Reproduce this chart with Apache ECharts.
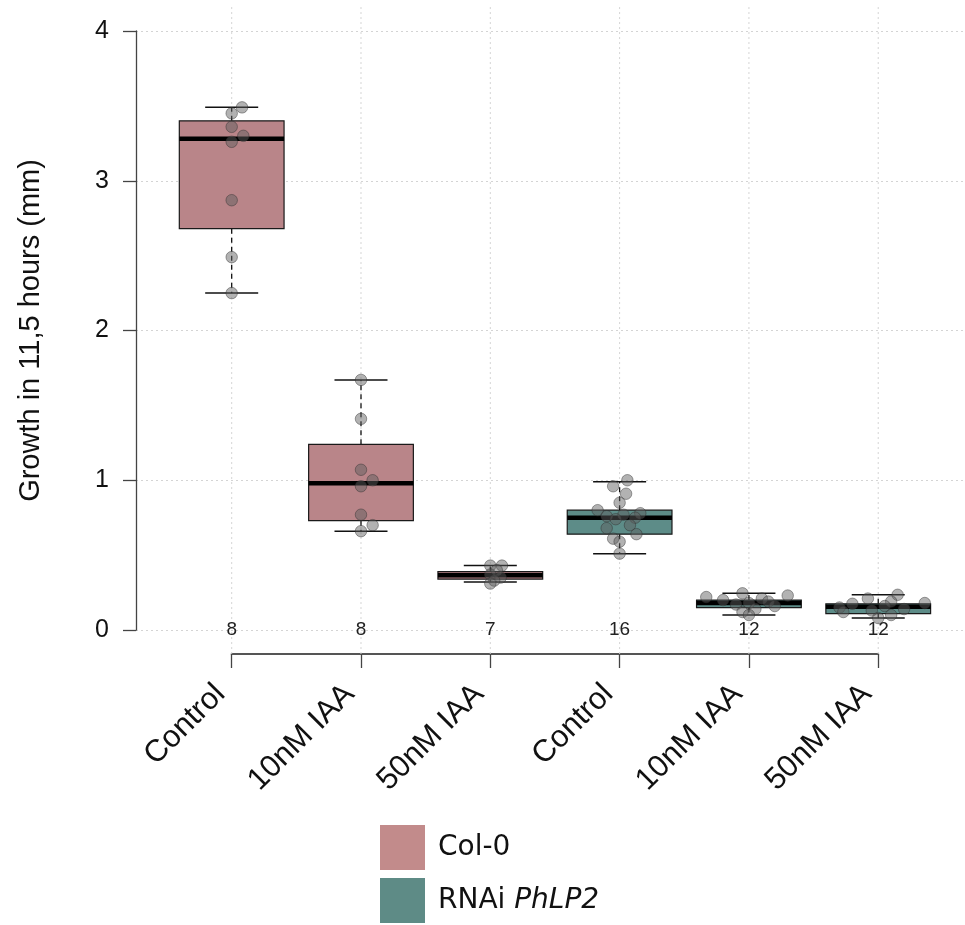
<!DOCTYPE html>
<html>
<head>
<meta charset="utf-8">
<script src="https://cdn.jsdelivr.net/npm/echarts@6/dist/echarts.min.js"></script>
<style>
  html, body { margin: 0; padding: 0; background: #ffffff; }
  #chart { width: 965px; height: 925px; }
</style>
</head>
<body>
<div id="chart"></div>
<script>
// Treatments along the x axis and the genotype each box belongs to
const categories = ['Control', '10nM IAA', '50nM IAA', 'Control', '10nM IAA', '50nM IAA'];
const genotypes = ['Col-0', 'Col-0', 'Col-0', 'RNAi PhLP2', 'RNAi PhLP2', 'RNAi PhLP2'];
const sampleSizes = [8, 8, 7, 16, 12, 12];

// Box statistics (mm)
const whiskerLow  = [2.25, 0.66, 0.32, 0.51, 0.10, 0.08];
const lowerHinge  = [2.68, 0.73, 0.34, 0.64, 0.15, 0.11];
const medians     = [3.28, 0.98, 0.365, 0.75, 0.18, 0.155];
const upperHinge  = [3.40, 1.24, 0.39, 0.80, 0.20, 0.175];
const whiskerHigh = [3.49, 1.67, 0.43, 0.99, 0.245, 0.235];

// Individual seedlings (mm) with their horizontal jitter in category units
const colControl = [3.49, 3.45, 3.36, 3.30, 3.26, 2.87, 2.49, 2.25];
const colControlJitter = [0.08, 0, 0, 0.09, 0, 0, 0, 0];
const col10 = [1.67, 1.41, 1.07, 1.00, 0.96, 0.77, 0.70, 0.66];
const col10Jitter = [0, 0, 0, 0.09, 0, 0, 0.09, 0];
const col50 = [0.43, 0.43, 0.40, 0.37, 0.35, 0.33, 0.31];
const col50Jitter = [0, 0.09, 0.05, 0, 0.08, 0.03, 0];
const rnaiControl = [1.00, 0.96, 0.91, 0.85, 0.80, 0.78, 0.77, 0.76, 0.75, 0.74, 0.70, 0.68, 0.64, 0.61, 0.59, 0.51];
const rnaiControlJitter = [0.06, -0.05, 0.05, 0.0, -0.17, 0.16, 0.03, -0.1, 0.12, -0.03, 0.08, -0.1, 0.13, -0.05, 0.0, 0.0];
const rnai10 = [0.245, 0.23, 0.22, 0.21, 0.20, 0.19, 0.18, 0.17, 0.16, 0.14, 0.12, 0.10];
const rnai10Jitter = [-0.05, 0.3, -0.33, 0.1, -0.2, 0.15, 0, -0.1, 0.2, 0.05, -0.05, 0];
const rnai50 = [0.235, 0.21, 0.19, 0.18, 0.175, 0.16, 0.15, 0.14, 0.13, 0.12, 0.10, 0.08];
const rnai50Jitter = [0.15, -0.08, 0.1, 0.36, -0.2, 0.05, -0.3, 0.2, -0.05, -0.27, 0.1, 0];

const groupValues = [colControl, col10, col50, rnaiControl, rnai10, rnai50];
const groupJitter = [colControlJitter, col10Jitter, col50Jitter, rnaiControlJitter, rnai10Jitter, rnai50Jitter];

const yTicks = [0, 1, 2, 3, 4];

const genotypeColors = { 'Col-0': '#b98589', 'RNAi PhLP2': '#5d8c88' };
const legendColors = { 'Col-0': '#c28b8b', 'RNAi PhLP2': '#5e8b86' };

const BOX_HALF = 0.405;
const CAP_HALF = 0.205;

function boxData(name) {
  const rows = [];
  for (let i = 0; i < categories.length; i++) {
    if (genotypes[i] !== name) continue;
    rows.push([i + 1, whiskerLow[i], lowerHinge[i], medians[i], upperHinge[i], whiskerHigh[i]]);
  }
  return rows;
}

function renderBox(params, api) {
  const x = api.value(0);
  const low = api.value(1), q1 = api.value(2), med = api.value(3), q3 = api.value(4), high = api.value(5);
  const pL = api.coord([x - BOX_HALF, q3]);
  const pR = api.coord([x + BOX_HALF, q1]);
  const c = (v) => api.coord([x, v]);
  const capL = (v) => api.coord([x - CAP_HALF, v]);
  const capR = (v) => api.coord([x + CAP_HALF, v]);
  const fill = api.visual('color');
  const dash = { stroke: '#111', lineWidth: 1.3, lineDash: [5, 4] };
  const solid = { stroke: '#111', lineWidth: 1.5 };
  return {
    type: 'group',
    children: [
      { type: 'line', shape: { x1: c(q3)[0], y1: c(q3)[1], x2: c(high)[0], y2: c(high)[1] }, style: dash },
      { type: 'line', shape: { x1: c(q1)[0], y1: c(q1)[1], x2: c(low)[0], y2: c(low)[1] }, style: dash },
      { type: 'line', shape: { x1: capL(high)[0], y1: capL(high)[1], x2: capR(high)[0], y2: capR(high)[1] }, style: solid },
      { type: 'line', shape: { x1: capL(low)[0], y1: capL(low)[1], x2: capR(low)[0], y2: capR(low)[1] }, style: solid },
      { type: 'rect', shape: { x: pL[0], y: pL[1], width: pR[0] - pL[0], height: pR[1] - pL[1] },
        style: { fill: fill, stroke: '#1a1a1a', lineWidth: 1.2 } },
      { type: 'line', shape: { x1: pL[0], y1: c(med)[1], x2: pR[0], y2: c(med)[1] },
        style: { stroke: '#000', lineWidth: 4.5 } }
    ]
  };
}

const pointData = [];
groupValues.forEach((vals, g) => {
  vals.forEach((v, k) => pointData.push([g + 1 + groupJitter[g][k], v]));
});

const countData = sampleSizes.map((n, i) => [i + 1, 0, n]);
const gridData = categories.map((_, i) => [i + 1]);

const fontAxis = '"Liberation Sans", Arial, sans-serif';
const fontLegend = '"DejaVu Sans", sans-serif';

const chart = echarts.init(document.getElementById('chart'), null, { renderer: 'canvas' });
chart.setOption({
  animation: false,
  backgroundColor: '#ffffff',
  grid: [
    { left: 136, top: 31, height: 599, right: 0 },
    { left: 231.7, top: 31, height: 599, width: 646.5 }
  ],
  xAxis: [
    { gridIndex: 0, type: 'value', min: 0.26, max: 6.671, show: false },
    {
      gridIndex: 1, type: 'value', min: 1, max: 6, interval: 1, offset: 24,
      axisLine: { show: true, onZero: false, lineStyle: { color: '#555', width: 2 } },
      axisTick: { show: true, length: 14, lineStyle: { color: '#444', width: 1.3 } },
      axisLabel: {
        rotate: 45, margin: 24, fontSize: 31, color: '#111', fontFamily: fontAxis,
        padding: [0, 16, 0, 0],
        formatter: (v) => categories[Math.round(v) - 1] || ''
      },
      splitLine: { show: false }
    }
  ],
  yAxis: [
    {
      gridIndex: 0, type: 'value', min: 0, max: 4, interval: 1,
      name: 'Growth in 11,5 hours (mm)', nameLocation: 'middle', nameGap: 91,
      nameTextStyle: { fontSize: 29, color: '#111', fontFamily: fontAxis },
      axisLine: { show: true, lineStyle: { color: '#444', width: 1.3 } },
      axisTick: { show: true, length: 13, lineStyle: { color: '#444', width: 1.3 } },
      axisLabel: { margin: 27, fontSize: 25, color: '#111', fontFamily: fontAxis,
        formatter: (v) => (yTicks.indexOf(v) >= 0 ? String(v) : '') },
      splitLine: { show: true, lineStyle: { color: '#d4d4d4', type: [2, 3], width: 1 } }
    },
    { gridIndex: 1, type: 'value', min: 0, max: 4, show: false }
  ],
  legend: {
    orient: 'vertical', left: 380, top: 825, padding: 0, itemWidth: 45, itemHeight: 45, itemGap: 8,
    icon: 'rect', selectedMode: false,
    data: [
      { name: 'Col-0', itemStyle: { color: legendColors['Col-0'] } },
      { name: 'RNAi PhLP2', itemStyle: { color: legendColors['RNAi PhLP2'] } }
    ],
    formatter: (name) => name === 'RNAi PhLP2' ? 'RNAi {i|PhLP2}' : name,
    textStyle: {
      fontSize: 28, color: '#111', fontFamily: fontLegend, padding: [0, 0, 0, 8],
      rich: { i: { fontSize: 28, fontStyle: 'italic', color: '#111', fontFamily: fontLegend } }
    }
  },
  series: [
    {
      type: 'custom', name: 'grid-verticals', xAxisIndex: 0, yAxisIndex: 0, silent: true, z: 1,
      data: gridData, clip: false,
      renderItem: (params, api) => {
        const top = api.coord([api.value(0), 4.16]);
        const bot = api.coord([api.value(0), -0.16]);
        return { type: 'line', shape: { x1: top[0], y1: top[1], x2: bot[0], y2: bot[1] },
          style: { stroke: '#d4d4d4', lineWidth: 1, lineDash: [2, 3] } };
      }
    },
    {
      type: 'custom', name: 'Col-0', xAxisIndex: 0, yAxisIndex: 0, z: 3,
      itemStyle: { color: genotypeColors['Col-0'] },
      data: boxData('Col-0'), renderItem: renderBox
    },
    {
      type: 'custom', name: 'RNAi PhLP2', xAxisIndex: 0, yAxisIndex: 0, z: 3,
      itemStyle: { color: genotypeColors['RNAi PhLP2'] },
      data: boxData('RNAi PhLP2'), renderItem: renderBox
    },
    {
      type: 'scatter', name: 'seedlings', xAxisIndex: 0, yAxisIndex: 0, z: 5, silent: true,
      symbol: 'circle', symbolSize: 11.5, data: pointData,
      itemStyle: { color: 'rgba(95,95,95,0.6)', borderColor: 'rgba(45,45,45,0.55)', borderWidth: 1 }
    },
    {
      type: 'custom', name: 'n', xAxisIndex: 0, yAxisIndex: 0, z: 6, silent: true, clip: false,
      data: countData,
      renderItem: (params, api) => {
        const p = api.coord([api.value(0), api.value(1)]);
        return { type: 'text', x: p[0], y: p[1],
          style: { text: String(api.value(2)), fontSize: 19, fill: '#222', fontFamily: fontAxis,
            align: 'center', verticalAlign: 'middle' } };
      }
    }
  ]
});
</script>
</body>
</html>
